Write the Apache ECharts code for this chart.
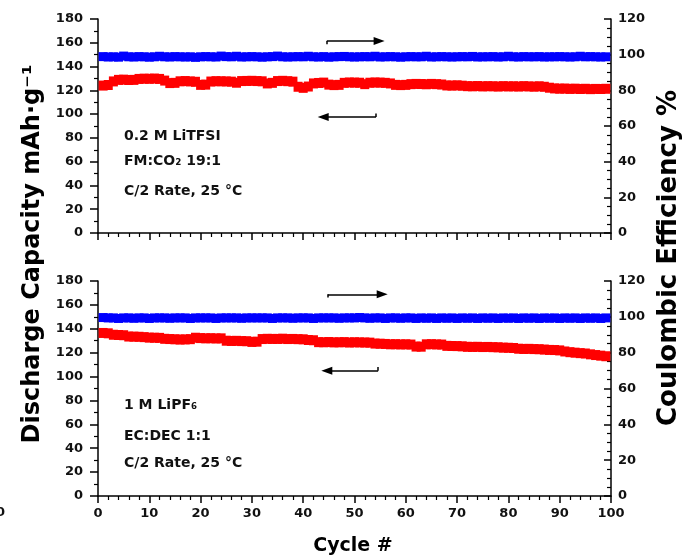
<!DOCTYPE html>
<html>
<head>
<meta charset="utf-8">
<script src="https://cdn.jsdelivr.net/npm/echarts@6.0.0/dist/echarts.min.js"></script>
<style>
  html, body { margin: 0; padding: 0; background: #fff; }
  #chart { width: 685px; height: 558px; }
</style>
</head>
<body>
<div id="chart"></div>
<script>
// Cycle numbers shared by both panels
var cycles = [
  1, 2, 3, 4, 5, 6, 7, 8, 9, 10,
  11, 12, 13, 14, 15, 16, 17, 18, 19, 20,
  21, 22, 23, 24, 25, 26, 27, 28, 29, 30,
  31, 32, 33, 34, 35, 36, 37, 38, 39, 40,
  41, 42, 43, 44, 45, 46, 47, 48, 49, 50,
  51, 52, 53, 54, 55, 56, 57, 58, 59, 60,
  61, 62, 63, 64, 65, 66, 67, 68, 69, 70,
  71, 72, 73, 74, 75, 76, 77, 78, 79, 80,
  81, 82, 83, 84, 85, 86, 87, 88, 89, 90,
  91, 92, 93, 94, 95, 96, 97, 98, 99
];

// Upper panel: 0.2 M LiTFSI in FM:CO2 (discharge capacity, mAh/g)
var capacityTFSI = [
  124.0, 124.5, 127.5, 128.8, 129.0, 128.7, 128.8, 129.6, 129.8, 129.7,
  129.9, 129.6, 128.2, 126.1, 126.3, 127.6, 127.8, 127.5, 127.2, 124.6,
  124.8, 127.4, 127.7, 127.6, 127.5, 127.3, 126.4, 127.8, 127.9, 128.0,
  127.8, 127.6, 125.8, 126.3, 127.8, 128.0, 127.7, 127.3, 123.0, 122.1,
  123.2, 125.8, 126.2, 126.5, 124.8, 124.4, 124.6, 126.3, 126.6, 126.5,
  126.4, 125.2, 126.4, 126.6, 126.5, 126.3, 125.8, 124.6, 124.4, 124.6,
  125.2, 125.4, 125.3, 125.1, 125.4, 125.2, 124.9, 124.1, 124.0, 124.2,
  123.9, 123.5, 123.4, 123.6, 123.3, 123.5, 123.4, 123.2, 123.5, 123.3,
  123.4, 123.2, 123.5, 123.3, 123.1, 123.4, 123.0, 122.2, 121.6, 121.4,
  121.5, 121.2, 121.4, 121.1, 121.3, 121.0, 121.2, 121.1, 121.3
];

// Upper panel: coulombic efficiency (%)
var efficiencyTFSI = [
  98.9, 98.7, 98.8, 98.6, 99.2, 98.8, 98.7, 98.9, 98.8, 98.6,
  98.8, 99.1, 98.8, 98.7, 98.9, 98.8, 98.7, 98.8, 98.5, 98.8,
  98.9, 98.8, 98.7, 99.2, 98.9, 98.8, 99.1, 98.7, 98.8, 98.9,
  98.8, 98.6, 98.8, 98.9, 99.2, 98.8, 98.7, 98.8, 98.9, 98.8,
  99.1, 98.8, 98.7, 98.9, 98.6, 98.8, 98.9, 99.0, 98.8, 98.7,
  98.8, 98.9, 98.8, 99.1, 98.7, 98.8, 98.9, 98.8, 98.6, 98.8,
  98.9, 98.8, 98.8, 99.1, 98.7, 98.8, 98.9, 98.8, 98.7, 98.8,
  98.9, 98.8, 99.0, 98.7, 98.8, 98.8, 98.9, 98.7, 98.8, 99.1,
  98.8, 98.7, 98.9, 98.8, 98.8, 98.9, 98.7, 98.8, 98.8, 98.9,
  98.8, 98.7, 98.8, 99.1, 98.8, 98.9, 98.8, 98.7, 98.8
];

// Lower panel: 1 M LiPF6 in EC:DEC (discharge capacity, mAh/g)
var capacityPF6 = [
  136.5, 136.2, 135.0, 134.8, 134.6, 133.5, 133.4, 133.3, 133.0, 132.6,
  132.5, 132.4, 131.6, 131.4, 131.2, 131.0, 131.1, 131.3, 132.5, 132.2,
  132.0, 132.1, 131.9, 132.0, 130.0, 129.8, 129.9, 129.7, 129.6, 129.0,
  129.2, 131.4, 131.6, 131.5, 131.5, 131.7, 131.4, 131.5, 131.3, 131.2,
  130.6, 130.4, 128.8, 128.7, 128.9, 128.6, 128.7, 128.8, 128.5, 128.7,
  128.6, 128.5, 128.4, 127.6, 127.5, 127.3, 127.0, 127.1, 126.9, 127.0,
  126.8, 125.1, 125.0, 127.0, 127.1, 126.9, 126.8, 125.7, 125.6, 125.5,
  125.3, 124.9, 124.8, 124.9, 124.7, 124.8, 124.6, 124.5, 124.2, 124.1,
  123.9, 123.3, 123.1, 123.2, 123.0, 122.9, 122.6, 122.3, 122.2, 121.9,
  121.0, 120.4, 120.0, 119.6, 119.3, 118.6, 118.0, 117.5, 117.0
];

// Lower panel: coulombic efficiency (%)
var efficiencyPF6 = [
  99.6, 99.4, 99.4, 99.1, 99.4, 99.4, 99.2, 99.4, 99.4, 99.1,
  99.4, 99.4, 99.4, 99.2, 99.4, 99.4, 99.4, 99.1, 99.4, 99.4,
  99.4, 99.4, 99.1, 99.4, 99.4, 99.4, 99.4, 99.2, 99.4, 99.4,
  99.4, 99.4, 99.4, 99.1, 99.4, 99.4, 99.4, 99.2, 99.4, 99.4,
  99.4, 99.1, 99.4, 99.4, 99.4, 99.4, 99.2, 99.4, 99.4, 99.4,
  99.6, 99.4, 99.2, 99.4, 99.4, 99.1, 99.4, 99.4, 99.2, 99.4,
  99.4, 99.1, 99.4, 99.2, 99.4, 99.1, 99.4, 99.2, 99.4, 99.1,
  99.4, 99.2, 99.4, 99.1, 99.4, 99.2, 99.4, 99.1, 99.4, 99.2,
  99.4, 99.1, 99.4, 99.2, 99.4, 99.1, 99.4, 99.2, 99.4, 99.1,
  99.4, 99.2, 99.4, 99.1, 99.4, 99.2, 99.4, 99.1, 99.4
];

// Axis tick values
var cycleTicks = [0, 10, 20, 30, 40, 50, 60, 70, 80, 90, 100];
var capacityTicks = [0, 20, 40, 60, 80, 100, 120, 140, 160, 180];
var efficiencyTicks = [0, 20, 40, 60, 80, 100, 120];

// Cell condition notes
var notesTFSI = ['0.2 M LiTFSI', 'FM:CO\u2082 19:1', 'C/2 Rate, 25 \u00B0C'];
var notesPF6 = ['1 M LiPF\u2086', 'EC:DEC 1:1', 'C/2 Rate, 25 \u00B0C'];

var FONT = 'DejaVu Sans';
var INK = '#111';

function pairs(values) {
  return values.map(function (v, i) { return [cycles[i], v]; });
}

function rangeOf(ticks) {
  return { min: ticks[0], max: ticks[ticks.length - 1], interval: ticks[1] - ticks[0] };
}

function xAxisFor(gridIndex, showLabels) {
  var r = rangeOf(cycleTicks);
  return {
    type: 'value', gridIndex: gridIndex, min: r.min, max: r.max, interval: r.interval,
    axisLine: { show: true, onZero: false, lineStyle: { color: '#000', width: 1.5 } },
    axisTick: { show: true, length: 7, lineStyle: { color: '#000', width: 1.5 } },
    minorTick: { show: true, splitNumber: 5, length: 4, lineStyle: { color: '#000', width: 1.2 } },
    axisLabel: { show: showLabels, margin: 11, color: INK, fontFamily: FONT, fontWeight: 'bold', fontSize: 13 },
    splitLine: { show: false }
  };
}

function leftAxisFor(gridIndex) {
  var r = rangeOf(capacityTicks);
  return {
    type: 'value', gridIndex: gridIndex, position: 'left', min: r.min, max: r.max, interval: r.interval,
    axisLine: { show: true, onZero: false, lineStyle: { color: '#000', width: 1.5 } },
    axisTick: { show: true, length: 8, lineStyle: { color: '#000', width: 1.5 } },
    minorTick: { show: true, splitNumber: 2, length: 4, lineStyle: { color: '#000', width: 1.2 } },
    axisLabel: { margin: 15, color: INK, fontFamily: FONT, fontWeight: 'bold', fontSize: 13 },
    splitLine: { show: false }
  };
}

function rightAxisFor(gridIndex) {
  var r = rangeOf(efficiencyTicks);
  return {
    type: 'value', gridIndex: gridIndex, position: 'right', min: r.min, max: r.max, interval: r.interval,
    axisLine: { show: true, onZero: false, lineStyle: { color: '#000', width: 1.5 } },
    axisTick: { show: true, inside: true, length: 7, lineStyle: { color: '#000', width: 1.5 } },
    minorTick: { show: true, splitNumber: 4, length: 4, lineStyle: { color: '#000', width: 1.2 } },
    axisLabel: { margin: 7, color: INK, fontFamily: FONT, fontWeight: 'bold', fontSize: 13 },
    splitLine: { show: false }
  };
}

// Direction arrows: which axis each band is read against
function arrowLines(from, to, tailDrop) {
  var tail = from;
  return {
    silent: true,
    animation: false,
    symbol: ['none', 'none'],
    label: { show: false },
    lineStyle: { color: '#000', width: 1.5, type: 'solid', opacity: 1 },
    data: [
      [{ coord: from, symbol: 'none' }, { coord: to, symbol: 'triangle', symbolSize: [8, 11], symbolRotate: to[0] > from[0] ? -90 : 90 }],
      [{ coord: tail, symbol: 'none' }, { coord: [tail[0], tail[1] + tailDrop], symbol: 'none' }]
    ]
  };
}

function capacitySeries(gridIndex, values, arrow) {
  return {
    type: 'scatter', xAxisIndex: gridIndex, yAxisIndex: gridIndex * 2,
    data: pairs(values), symbol: 'rect', symbolSize: [9, 10],
    itemStyle: { color: '#ff0000', opacity: 1, borderWidth: 0 }, silent: true, animation: false,
    markLine: arrow
  };
}

function efficiencySeries(gridIndex, values, arrow) {
  return {
    type: 'scatter', xAxisIndex: gridIndex, yAxisIndex: gridIndex * 2 + 1,
    data: pairs(values), symbol: 'rect', symbolSize: [9, 9],
    itemStyle: { color: '#0000ff', opacity: 1, borderWidth: 0 }, silent: true, animation: false,
    markLine: arrow
  };
}

function noteText(lines, x, ys) {
  return lines.map(function (t, i) {
    return {
      type: 'text', left: x, top: ys[i],
      style: { text: t, fill: INK, font: 'bold 14px "' + FONT + '"' }
    };
  });
}

var chart = echarts.init(document.getElementById('chart'), null, { renderer: 'canvas' });

chart.setOption({
  backgroundColor: '#fff',
  animation: false,
  grid: [
    { left: 98, right: 74, top: 19, height: 214 },
    { left: 98, right: 74, top: 281, height: 215 }
  ],
  xAxis: [xAxisFor(0, false), xAxisFor(1, true)],
  yAxis: [leftAxisFor(0), rightAxisFor(0), leftAxisFor(1), rightAxisFor(1)],
  series: [
    capacitySeries(0, capacityTFSI, arrowLines([54.2, 97.6], [43.9, 97.6], 3)),
    efficiencySeries(0, efficiencyTFSI, arrowLines([44.6, 107.7], [54.8, 107.7], -1.8)),
    capacitySeries(1, capacityPF6, arrowLines([54.6, 104.9], [44.6, 104.9], 3)),
    efficiencySeries(1, efficiencyPF6, arrowLines([44.8, 112.6], [55.4, 112.6], -1.8))
  ],
  graphic: [
    {
      type: 'text', x: 33, y: 254, rotation: Math.PI / 2,
      style: { text: 'Discharge Capacity mAh\u00B7g\u207B\u00B9', fill: '#000', font: 'bold 24px "' + FONT + '"', align: 'center', verticalAlign: 'middle' }
    },
    {
      type: 'text', x: 669, y: 258, rotation: Math.PI / 2,
      style: { text: 'Coulombic Efficiency %', fill: '#000', font: 'bold 26px "' + FONT + '"', align: 'center', verticalAlign: 'middle' }
    },
    {
      type: 'text', x: 353, y: 546,
      style: { text: 'Cycle #', fill: '#000', font: 'bold 19px "' + FONT + '"', align: 'center', verticalAlign: 'middle' }
    },
    {
      type: 'text', x: -4, y: 506,
      style: { text: '0', fill: INK, font: 'bold 13px "' + FONT + '"' }
    }
  ].concat(noteText(notesTFSI, 124, [129, 154, 184]))
   .concat(noteText(notesPF6, 124, [398, 429, 456]))
});
</script>
</body>
</html>
